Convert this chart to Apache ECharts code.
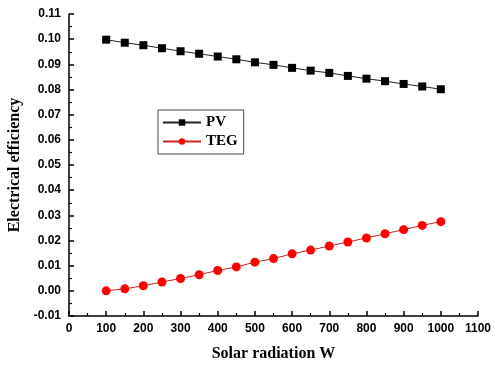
<!DOCTYPE html>
<html>
<head>
<meta charset="utf-8">
<script src="https://cdn.jsdelivr.net/npm/echarts@6/dist/echarts.min.js"></script>
<style>html,body{margin:0;padding:0;background:#fff}#c{width:495px;height:366px}</style>
</head>
<body>
<div id="c"></div>
<script>
const radiation = [100,150,200,250,300,350,400,450,500,550,600,650,700,750,800,850,900,950,1000];
const pvEff = [0.0998,0.0986,0.0976,0.0964,0.0952,0.0942,0.0931,0.0920,0.0908,0.0898,0.0886,0.0875,0.0866,0.0854,0.0843,0.0833,0.0822,0.0812,0.0801];
const tegEff = [0.0000,0.0008,0.0020,0.0035,0.0049,0.0064,0.0081,0.0095,0.0114,0.0128,0.0147,0.0162,0.0178,0.0194,0.0210,0.0227,0.0243,0.0260,0.0275];
const xTitle = 'Solar radiation W';
const yTitle = 'Electrical efficiency';

const chart = echarts.init(document.getElementById('c'));
const lbl = {color:'#000', fontFamily:'Liberation Sans, Arial', fontWeight:'bold', fontSize:12};
chart.setOption({
  animation:false,
  grid:{left:69, right:17, top:14, bottom:50, containLabel:false, outerBoundsMode:'none'},
  legend:{
    left:158, top:110, orient:'vertical', itemGap:4,
    itemWidth:38, itemHeight:8,
    padding:[5,6,5,4],
    borderColor:'#444', borderWidth:1,
    textStyle:{color:'#000', fontFamily:'Liberation Serif, Times New Roman', fontWeight:'bold', fontSize:15},
    data:['PV','TEG']
  },
  xAxis:{
    type:'value', min:0, max:1100, interval:100,
    name:xTitle, nameLocation:'middle', nameGap:30,
    nameTextStyle:{color:'#000', fontFamily:'Liberation Serif, Times New Roman', fontWeight:'bold', fontSize:16},
    axisLine:{onZero:false, lineStyle:{color:'#000', width:1.5}},
    axisTick:{inside:true, length:5, lineStyle:{color:'#000', width:1.5}},
    minorTick:{show:true, splitNumber:2, length:3, lineStyle:{color:'#000', width:1.2}},
    splitLine:{show:false},
    axisLabel:Object.assign({margin:7, formatter:v=>String(v)}, lbl)
  },
  yAxis:{
    type:'value', min:-0.01, max:0.11, interval:0.01,
    name:yTitle, nameLocation:'middle', nameGap:45, nameRotate:90,
    nameTextStyle:{color:'#000', fontFamily:'Liberation Serif, Times New Roman', fontWeight:'bold', fontSize:16},
    axisLine:{show:true, onZero:false, lineStyle:{color:'#000', width:1.5}},
    axisTick:{show:true, inside:true, length:5, lineStyle:{color:'#000', width:1.5}},
    minorTick:{show:true, splitNumber:2, length:3, lineStyle:{color:'#000', width:1.2}},
    splitLine:{show:false},
    axisLabel:Object.assign({margin:8, formatter:v=>v.toFixed(2)}, lbl)
  },
  series:[
    {name:'PV', type:'line', data:radiation.map((x,i)=>[x,pvEff[i]]),
     symbol:'rect', symbolSize:8, itemStyle:{color:'#000'}, lineStyle:{color:'#222', width:1}},
    {name:'TEG', type:'line', data:radiation.map((x,i)=>[x,tegEff[i]]),
     symbol:'circle', symbolSize:9, itemStyle:{color:'#f00'}, lineStyle:{color:'#c22', width:1}}
  ]
});
</script>
</body>
</html>
